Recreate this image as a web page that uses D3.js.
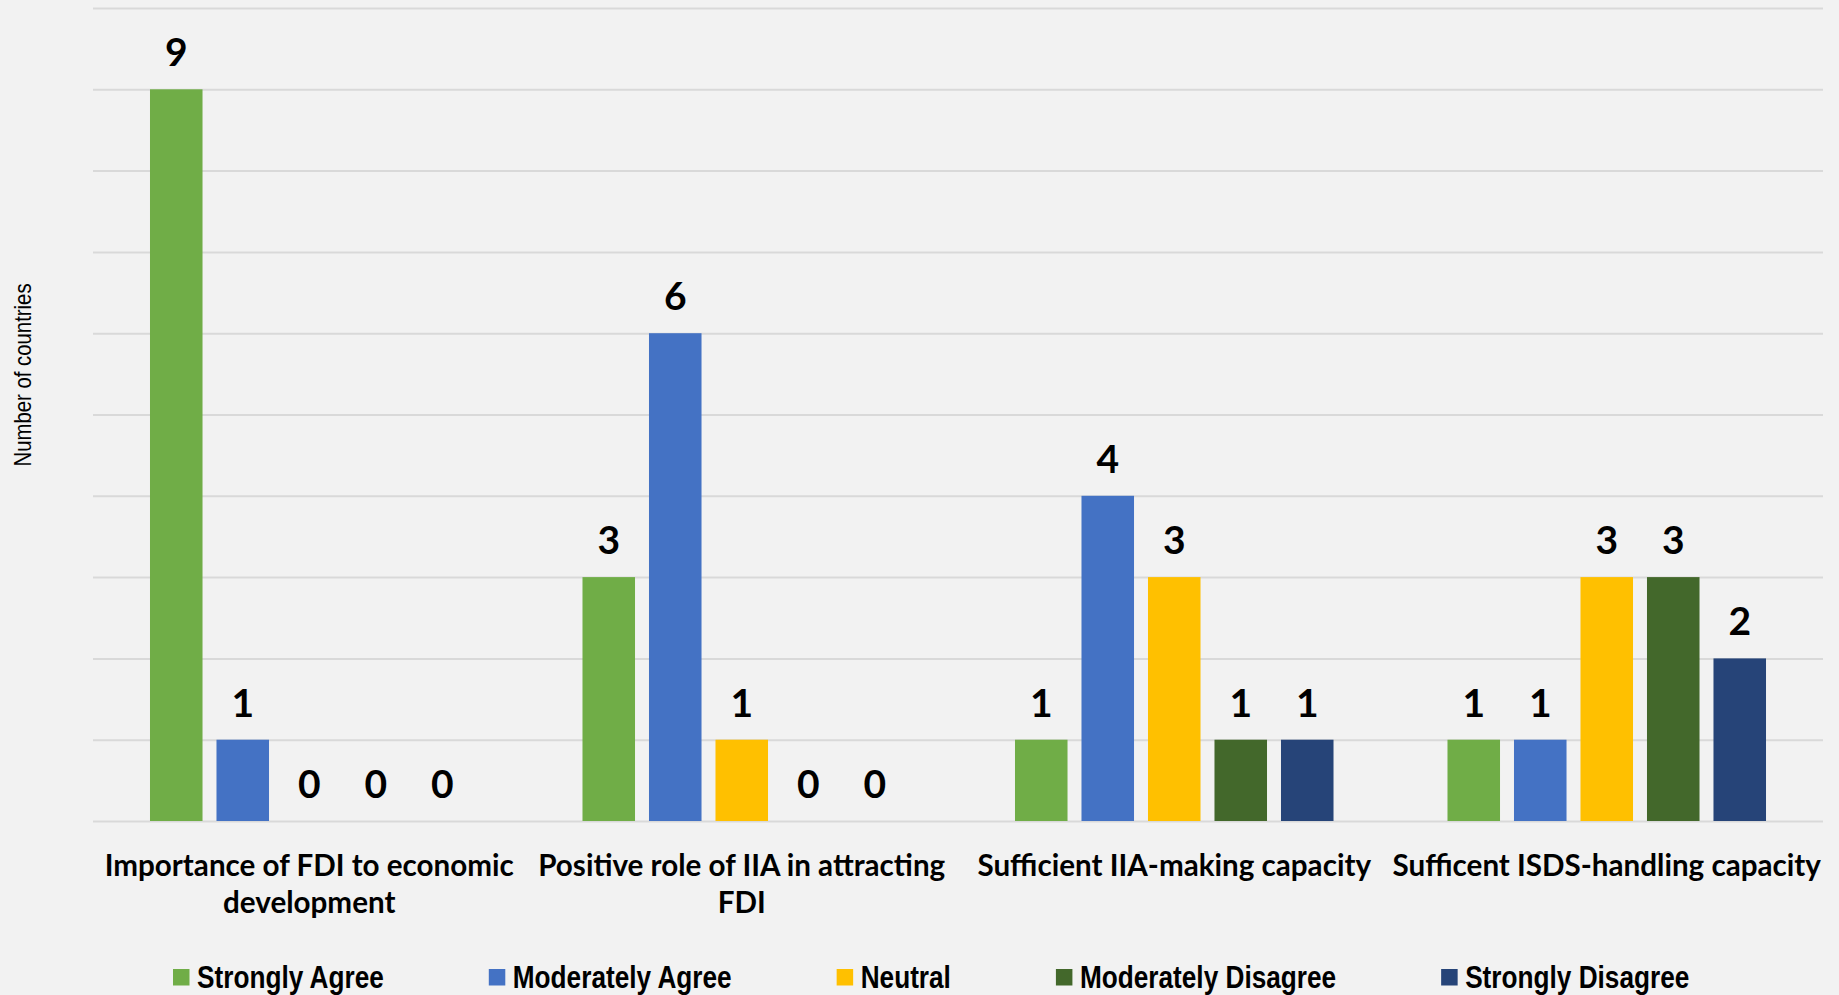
<!DOCTYPE html>
<html>
<head>
<meta charset="utf-8">
<script src="https://cdn.jsdelivr.net/npm/d3@7"></script>
<style>
  html, body { margin: 0; padding: 0; background: #f2f2f2; }
  svg { display: block; }
</style>
</head>
<body>
<svg id="chart" width="1839" height="995"></svg>
<script>
// Survey responses per question, grouped by answer
const categories = [
  "Importance of FDI to economic development",
  "Positive role of IIA in attracting FDI",
  "Sufficient IIA-making capacity",
  "Sufficent ISDS-handling capacity"
];
const seriesNames = ["Strongly Agree", "Moderately Agree", "Neutral", "Moderately Disagree", "Strongly Disagree"];
const stronglyAgree      = [9, 3, 1, 1];
const moderatelyAgree    = [1, 6, 4, 1];
const neutral            = [0, 1, 3, 3];
const moderatelyDisagree = [0, 0, 1, 3];
const stronglyDisagree   = [0, 0, 1, 2];
const yTicks = [0, 1, 2, 3, 4, 5, 6, 7, 8, 9, 10];
const seriesColors = ["#70ad47", "#4472c4", "#ffc000", "#43682b", "#264478"];
const yTitle = "Number of countries";

const seriesValues = [stronglyAgree, moderatelyAgree, neutral, moderatelyDisagree, stronglyDisagree];
const rows = categories.map((c, i) => ({
  category: c,
  values: seriesNames.map((s, j) => ({ series: s, value: seriesValues[j][i], color: seriesColors[j] }))
}));

const svg = d3.select("#chart");
const W = 1839, H = 995;
const plot = { left: 93, right: 1823, top: 8, bottom: 821 };
const narrowFamily = "'Liberation Sans', Arial, sans-serif";

// squeeze a text element horizontally to a condensed width
function condense(sel, factor) {
  const w = sel.node().getComputedTextLength();
  sel.attr("textLength", w * factor).attr("lengthAdjust", "spacingAndGlyphs");
  return w * factor;
}

svg.append("rect").attr("width", W).attr("height", H).attr("fill", "#f2f2f2");

const x0 = d3.scaleBand().domain(categories).range([plot.left, plot.right]).padding(0);
const x1 = d3.scaleBand().domain(seriesNames).range([0, x0.bandwidth()])
  .paddingInner(0.21).paddingOuter(0.857);
const y = d3.scaleLinear().domain([0, 10]).range([plot.bottom, plot.top]);

// horizontal gridlines
const yAxis = d3.axisLeft(y).tickValues(yTicks).tickSize(-(plot.right - plot.left)).tickFormat("");
const gy = svg.append("g").attr("transform", `translate(${plot.left},0)`).call(yAxis);
gy.select(".domain").remove();
gy.selectAll(".tick line").attr("stroke", "#d9d9d9").attr("stroke-width", 2);

// bars
const groups = svg.append("g").selectAll("g").data(rows).join("g")
  .attr("transform", d => `translate(${x0(d.category)},0)`);

groups.selectAll("rect").data(d => d.values).join("rect")
  .attr("x", d => x1(d.series))
  .attr("y", d => y(d.value))
  .attr("width", x1.bandwidth())
  .attr("height", d => y(0) - y(d.value))
  .attr("fill", d => d.color);

// value labels
groups.selectAll("text.val").data(d => d.values).join("text")
  .attr("class", "val")
  .attr("x", d => x1(d.series) + x1.bandwidth() / 2)
  .attr("y", d => y(d.value) - 23)
  .attr("text-anchor", "middle")
  .attr("font-family", "Lato, 'Open Sans', sans-serif")
  .attr("font-weight", 700)
  .attr("font-size", 39)
  .attr("fill", "#000")
  .text(d => d.value);

// category labels, wrapped to the band width
const catFont = { family: "Lato, 'Open Sans', sans-serif", size: 29.6 };
const labelG = svg.append("g");
rows.forEach(d => {
  const cx = x0(d.category) + x0.bandwidth() / 2;
  const t = labelG.append("text")
    .attr("text-anchor", "middle")
    .attr("font-family", catFont.family)
    .attr("font-weight", 700)
    .attr("font-size", catFont.size)
    .attr("fill", "#000");
  const words = d.category.split(" ");
  const lines = [];
  let line = [];
  const probe = t.append("tspan");
  words.forEach(w => {
    const trial = line.concat(w).join(" ");
    probe.text(trial);
    if (probe.node().getComputedTextLength() > x0.bandwidth() + 4 && line.length) {
      lines.push(line.join(" "));
      line = [w];
    } else {
      line.push(w);
    }
  });
  lines.push(line.join(" "));
  probe.remove();
  lines.forEach((l, i) => {
    t.append("tspan").attr("x", cx).attr("y", 876 + i * 37).text(l);
  });
});

// y-axis title
const yt = svg.append("text")
  .attr("transform", `translate(31,375) rotate(-90)`)
  .attr("text-anchor", "middle")
  .attr("font-family", narrowFamily)
  .attr("font-size", 24.5)
  .attr("fill", "#000")
  .text(yTitle);
condense(yt, 0.83);

// legend
const legend = svg.append("g");
let lx = 173;
seriesNames.forEach((s, i) => {
  legend.append("rect")
    .attr("x", lx).attr("y", 969)
    .attr("width", 16.5).attr("height", 16.5)
    .attr("fill", seriesColors[i]);
  const t = legend.append("text")
    .attr("x", lx + 24).attr("y", 987.5)
    .attr("font-family", narrowFamily)
    .attr("font-weight", 700)
    .attr("font-size", 31)
    .attr("fill", "#000")
    .text(s);
  const w = condense(t, 0.845);
  lx += 24 + w + 105;
});
</script>
</body>
</html>
